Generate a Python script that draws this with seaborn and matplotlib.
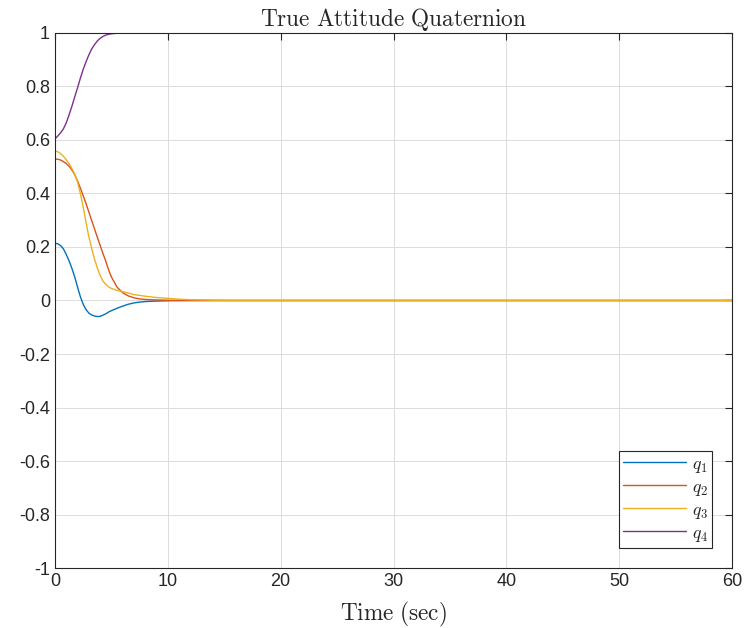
import numpy as np
import pandas as pd
import seaborn as sns
import matplotlib.pyplot as plt

# values
t = [0, 0.25, 0.5, 0.75, 1, 1.25, 1.5, 1.75, 2, 2.25, 2.5, 2.75, 3, 3.25, 3.5, 3.75, 4, 4.25,
     4.5, 4.75, 5, 5.5, 6, 6.5, 7, 7.5, 8, 9, 10, 11, 12, 14, 16, 20, 30, 40, 50, 60]
q1 = [0.214, 0.212, 0.205, 0.193, 0.172, 0.148, 0.12, 0.088, 0.05, 0.014, -0.014, -0.034, -0.047,
      -0.054, -0.058, -0.06, -0.059, -0.055, -0.05, -0.043, -0.038, -0.029, -0.021, -0.014, -0.009,
      -0.006, -0.004, -0.002, -0.001, 0, 0, 0, 0, 0, 0, 0, 0, 0]
q2 = [0.529, 0.528, 0.525, 0.519, 0.512, 0.502, 0.488, 0.47, 0.447, 0.42, 0.392, 0.362, 0.331,
      0.299, 0.268, 0.237, 0.206, 0.176, 0.147, 0.115, 0.088, 0.05, 0.029, 0.017, 0.01, 0.006,
      0.004, 0.002, 0.001, 0, 0, 0, 0, 0, 0, 0, 0, 0]
q3 = [0.559, 0.556, 0.549, 0.539, 0.526, 0.511, 0.494, 0.472, 0.443, 0.40, 0.35, 0.292, 0.238,
      0.195, 0.155, 0.122, 0.094, 0.073, 0.06, 0.051, 0.045, 0.038, 0.033, 0.028, 0.022, 0.019,
      0.016, 0.011, 0.008, 0.005, 0.003, 0.001, 0, 0, 0, 0, 0, 0]
q4 = [0.604, 0.615, 0.627, 0.642, 0.664, 0.694, 0.726, 0.761, 0.795, 0.831, 0.864, 0.892, 0.918,
      0.94, 0.956, 0.97, 0.98, 0.987, 0.992, 0.995, 0.997, 0.999, 1.0, 1.0, 1.0, 1.0, 1.0, 1.0,
      1.0, 1.0, 1.0, 1.0, 1.0, 1.0, 1.0, 1.0, 1.0, 1.0]
labels = ['$q_1$', '$q_2$', '$q_3$', '$q_4$']
colors = ['#0072BD', '#D95319', '#EDB120', '#7E2F8E']

df = pd.concat([pd.DataFrame({'t': t, 'q': v, 'name': lab})
                for v, lab in zip([q1, q2, q3, q4], labels)])

sns.set_style('whitegrid')
plt.rcParams['font.family'] = ['Liberation Sans', 'DejaVu Sans']
plt.rcParams['mathtext.fontset'] = 'cm'

fig = plt.figure(figsize=(7.47, 6.28), dpi=100)
ax = fig.add_axes([0.0736, 0.0955, 0.9064, 0.852])
sns.lineplot(data=df, x='t', y='q', hue='name', palette=colors, linewidth=1.0, ax=ax)

ax.set_xlim(0, 60)
ax.set_ylim(-1, 1)
ax.set_xticks(np.arange(0, 61, 10))
ax.set_yticks(np.round(np.arange(-1, 1.01, 0.2), 1))
ax.set_yticklabels(['-1', '-0.8', '-0.6', '-0.4', '-0.2', '0', '0.2', '0.4', '0.6', '0.8', '1'])
ax.tick_params(labelsize=13, direction='in', length=5, width=0.8, color='#262626',
               top=True, right=True, labelcolor='#262626')
ax.grid(True, color='#dcdcdc', linewidth=0.7)
for s in ax.spines.values():
    s.set_color('#262626')
    s.set_linewidth(0.8)

ax.set_title(r'$\mathrm{True\ Attitude\ Quaternion}$', fontsize=16.8, pad=5)
ax.set_xlabel(r'$\mathrm{Time\ (sec)}$', fontsize=16.7, labelpad=7)
ax.set_ylabel('')

leg = ax.legend(loc='lower right', fontsize=13, frameon=True, fancybox=False,
                edgecolor='#262626', framealpha=1, handlelength=3.5,
                borderaxespad=1.1, labelspacing=0.22, borderpad=0.25, handletextpad=0.3)
leg.get_frame().set_linewidth(0.8)

plt.savefig('out.png', dpi=100)
